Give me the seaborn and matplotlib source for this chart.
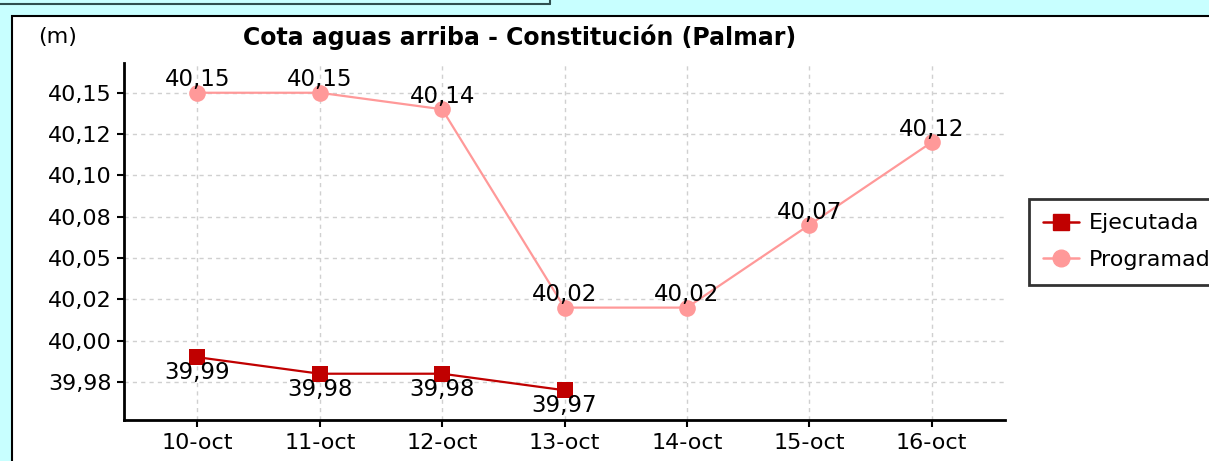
import pandas as pd
import matplotlib.pyplot as plt
import seaborn as sns
from matplotlib.patches import Rectangle
from matplotlib.lines import Line2D

# datos
dias = ['10-oct', '11-oct', '12-oct', '13-oct', '14-oct', '15-oct', '16-oct']
ejecutada = [39.99, 39.98, 39.98, 39.97]
programado = [40.15, 40.15, 40.14, 40.02, 40.02, 40.07, 40.12]
yticks = [39.975, 40.0, 40.025, 40.05, 40.075, 40.1, 40.125, 40.15]
ytick_labels = ['39,98', '40,00', '40,02', '40,05', '40,08', '40,10', '40,12', '40,15']

df = pd.concat([
    pd.DataFrame({'Dia': dias[:len(ejecutada)], 'Cota': ejecutada, 'Serie': 'Ejecutada'}),
    pd.DataFrame({'Dia': dias, 'Cota': programado, 'Serie': 'Programado'}),
], ignore_index=True)

colores = {'Ejecutada': '#C00000', 'Programado': '#FF9999'}

sns.set_style('white')
plt.rcParams['font.family'] = ['DejaVu Sans']
plt.rcParams['text.color'] = 'black'
plt.rcParams['xtick.color'] = 'black'
plt.rcParams['ytick.color'] = 'black'

fs = 16

fig = plt.figure(figsize=(12.09, 4.61), dpi=100)
fig.patch.set_facecolor('#C8FFFF')

# panel blanco y recuadro superior
fig.add_artist(Rectangle((12 / 1209, -0.01), 1.0, (461 - 16) / 461 + 0.01,
                         transform=fig.transFigure, facecolor='white',
                         edgecolor='black', linewidth=1.5, zorder=0))
fig.add_artist(Line2D([0, 550 / 1209], [1 - 4 / 461] * 2, transform=fig.transFigure,
                      color='#2f4f4f', linewidth=1.5))
fig.add_artist(Line2D([550 / 1209] * 2, [1 - 4 / 461, 1.0], transform=fig.transFigure,
                      color='#2f4f4f', linewidth=1.5))

ax = fig.add_axes([124 / 1209, 1 - 420 / 461, (1005 - 124) / 1209, (420 - 63) / 461])
ax.set_facecolor('white')

sns.lineplot(data=df, x='Dia', y='Cota', hue='Serie', style='Serie',
             markers={'Ejecutada': 's', 'Programado': 'o'}, dashes=False,
             palette=colores, linewidth=1.6, markersize=12, markeredgewidth=0,
             ax=ax, legend=False, zorder=3)

# etiquetas de valores
for i, v in enumerate(ejecutada):
    ax.annotate(f'{v:.2f}'.replace('.', ','), (i, v), xytext=(0, -3),
                textcoords='offset points', ha='center', va='top', fontsize=16.5)
for i, v in enumerate(programado):
    ax.annotate(f'{v:.2f}'.replace('.', ','), (i, v), xytext=(0, 1),
                textcoords='offset points', ha='center', va='bottom', fontsize=16.5)

ax.set_xlim(-0.6, 6.6)
ax.set_ylim(39.952, 40.168)
ax.set_yticks(yticks)
ax.set_yticklabels(ytick_labels)
ax.set_xlabel('')
ax.set_ylabel('')
ax.grid(True, linestyle=(0, (3, 3)), color='#d0d0d0', linewidth=1)
ax.tick_params(axis='both', labelsize=fs, length=5, width=1.5, direction='out',
               left=True, bottom=True, pad=4)
for s in ['top', 'right']:
    ax.spines[s].set_visible(False)
for s in ['left', 'bottom']:
    ax.spines[s].set_linewidth(2)
    ax.spines[s].set_color('black')

fig.text(520 / 1209, 1 - 37 / 461, 'Cota aguas arriba - Constitución (Palmar)',
         ha='center', va='center', fontsize=17, fontweight='bold')
fig.text(58 / 1209, 1 - 37 / 461, '(m)', ha='center', va='center', fontsize=fs)

handles = [Line2D([], [], color=colores['Ejecutada'], marker='s', markersize=12, linewidth=1.8),
           Line2D([], [], color=colores['Programado'], marker='o', markersize=12, linewidth=1.8)]
leg = fig.legend(handles, ['Ejecutada', 'Programado'], loc='upper left',
                 bbox_to_anchor=(1029 / 1209, 1 - 199 / 461), fontsize=fs,
                 frameon=True, fancybox=False, handlelength=1.6, borderpad=0.65,
                 labelspacing=0.75, handletextpad=0.45, borderaxespad=0)
leg.get_frame().set_edgecolor('black')
leg.get_frame().set_linewidth(2)

fig.savefig('out.png', dpi=100, facecolor=fig.get_facecolor())
